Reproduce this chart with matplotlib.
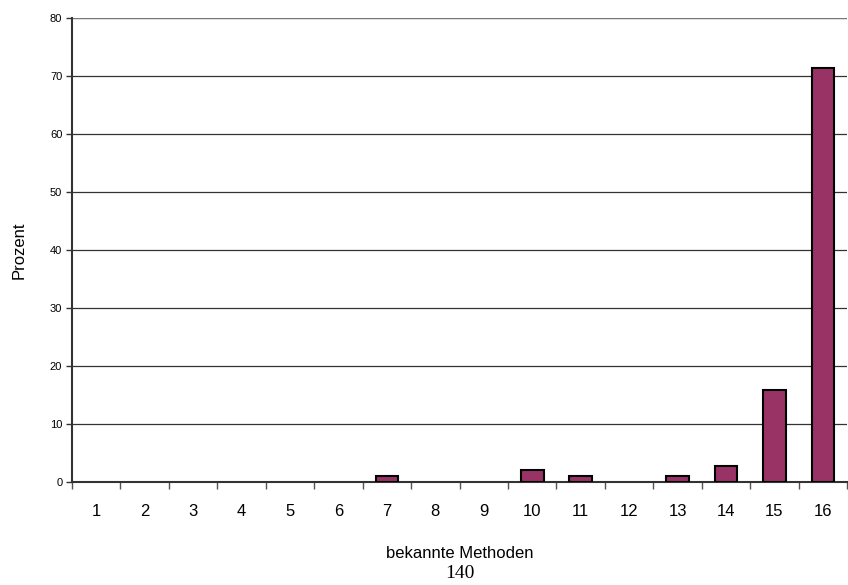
import matplotlib.pyplot as plt
import numpy as np

plt.rcParams['font.family'] = ['Liberation Sans', 'DejaVu Sans']

# Anzahl bekannter Methoden und Anteil in Prozent
methoden = list(range(1, 17))
prozent = [0, 0, 0, 0, 0, 0, 1.0, 0, 0, 2.1, 1.0, 0, 1.0, 2.8, 15.9, 71.4]

fig = plt.figure(figsize=(8.48, 5.85), dpi=100)
ax = fig.add_axes([72/848, 1-482/585, 1-72/848-0.001, 464/585])

x = np.arange(len(methoden))
werte = np.array(prozent)
mask = werte > 0   # leere Kategorien ohne Balken
ax.bar(x[mask], werte[mask], width=0.47, color='#993366', edgecolor='black', linewidth=1.5, zorder=3)

ax.set_xlim(-0.5, len(methoden) - 0.5)
ax.set_ylim(0, 80)
ax.set_yticks(range(0, 81, 10))
ax.yaxis.grid(True, color='#333333', linewidth=0.9, zorder=0)
ax.tick_params(axis='y', labelsize=8, length=4, width=1, color='#333333', pad=3)

# Ticks an den Kategoriegrenzen, Beschriftung in der Mitte
ax.set_xticks(np.arange(-0.5, len(methoden), 1))
ax.set_xticklabels([])
ax.set_xticks(x, minor=True)
ax.set_xticklabels([str(m) for m in methoden], minor=True, fontsize=12)
ax.tick_params(axis='x', which='major', length=5, width=1, color='#555555')
ax.tick_params(axis='x', which='minor', length=0, pad=16)

for s in ['top', 'right']:
    ax.spines[s].set_visible(False)
ax.spines['left'].set_color('#333333')
ax.spines['bottom'].set_color('#333333')
ax.spines['left'].set_linewidth(1.5)
ax.spines['bottom'].set_linewidth(1.5)
ax.axhline(80, color='#777777', linewidth=1.5, zorder=2)

ax.set_ylabel('Prozent', fontsize=12, labelpad=17)
ax.set_xlabel('bekannte Methoden', fontsize=12, labelpad=19)

fig.text(460/848, 1-573/585, '140', fontsize=14, family='Liberation Serif', ha='center', va='center')

fig.savefig('out.png')
